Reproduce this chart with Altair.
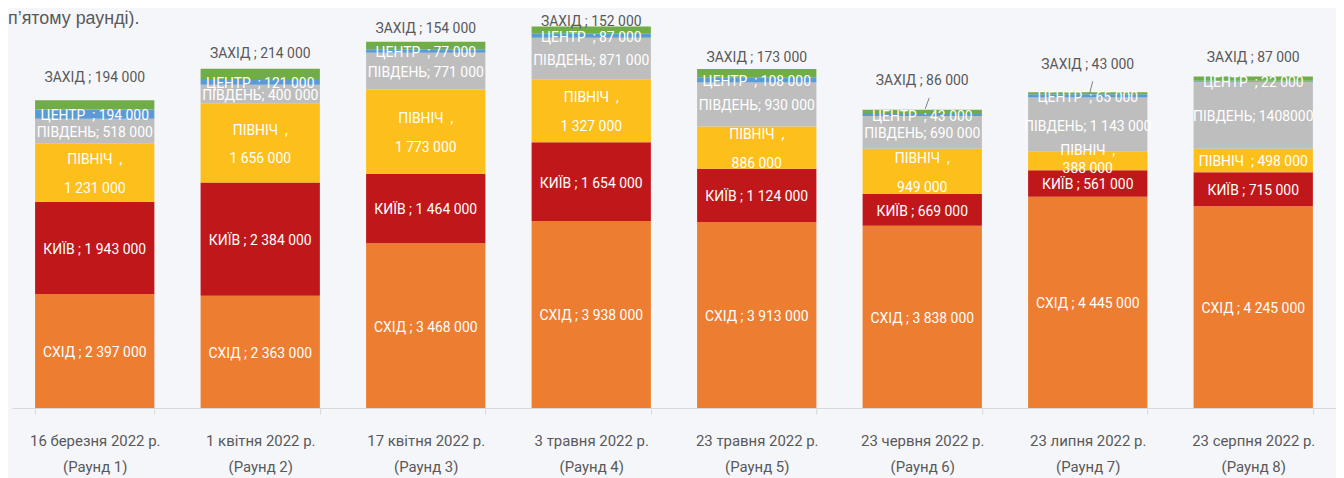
import altair as alt
import pandas as pd

# ---------------- data ----------------
dates = ["16 березня 2022 р.", "1 квітня 2022 р.", "17 квітня 2022 р.", "3 травня 2022 р.",
         "23 травня 2022 р.", "23 червня 2022 р.", "23 липня 2022 р.", "23 серпня 2022 р."]
round_labels = ["(Раунд 1)", "(Раунд 2)", "(Раунд 3)", "(Раунд 4)",
                "(Раунд 5)", "(Раунд 6)", "(Раунд 7)", "(Раунд 8)"]
regions = ["СХІД", "КИЇВ", "ПІВНІЧ", "ПІВДЕНЬ", "ЦЕНТР", "ЗАХІД"]
east = [2397000, 2363000, 3468000, 3938000, 3913000, 3838000, 4445000, 4245000]
kyiv = [1943000, 2384000, 1464000, 1654000, 1124000, 669000, 561000, 715000]
north = [1231000, 1656000, 1773000, 1327000, 886000, 949000, 388000, 498000]
south = [518000, 400000, 771000, 871000, 930000, 690000, 1143000, 1408000]
centre = [194000, 121000, 77000, 87000, 108000, 43000, 65000, 22000]
west = [194000, 214000, 154000, 152000, 173000, 86000, 43000, 87000]
note_text = "п’ятому раунді)."

# ---------------- layout / style ----------------
W, H = 1332, 401
YMAX = H / 47.8 * 1e6
UPP = YMAX / H                      # data units per pixel
colors = ["#ED7D31", "#C0181A", "#FCBF1C", "#BEBEBE", "#5B9BD5", "#70AD47"]
FONT = "Roboto, Liberation Sans, sans-serif"
TXT = "#595959"
INSIDE_DY = 2                       # px, positive = down
NORTH_SPLIT = [(-14.5, 14.5)] * 6 + [(-12, 6), None]
WEST_LIFT = [24, 17, 15, 7, 13, 31, 29, 21]
LEADERS = {5: (7, -12, 3, -1), 6: (5, -11, 2, 1)}  # round idx: dx_top, dy_top, dx_bot, dy_bot

NBSP = "\u00a0"


def fmt(v):
    return f"{v:,}".replace(",", " ")


cats = [f"{d}|{r}" for d, r in zip(dates, round_labels)]

bar_rows, in_rows, out_rows = [], [], []
for i, c in enumerate(cats):
    vals = [east[i], kyiv[i], north[i], south[i], centre[i], west[i]]
    base = 0
    bounds = []
    for k, (reg, v) in enumerate(zip(regions, vals)):
        bar_rows.append({"cat": c, "region": reg, "y0": base, "y1": base + v, "ord": k})
        bounds.append((base, base + v))
        base += v
    total = base
    mid = [(a + b) / 2 for a, b in bounds]

    def place(m, dy_px):
        return m - dy_px * UPP

    in_rows.append({"cat": c, "t": f"СХІД ; {fmt(east[i])}", "y": place(mid[0], INSIDE_DY)})
    in_rows.append({"cat": c, "t": f"КИЇВ ; {fmt(kyiv[i])}", "y": place(mid[1], INSIDE_DY)})
    sp = NORTH_SPLIT[i]
    if sp is None:
        in_rows.append({"cat": c, "t": f"ПІВНІЧ{NBSP} ; {fmt(north[i])}", "y": place(mid[2], INSIDE_DY)})
    else:
        in_rows.append({"cat": c, "t": f"ПІВНІЧ{NBSP} ,", "y": place(mid[2], INSIDE_DY + sp[0])})
        in_rows.append({"cat": c, "t": fmt(north[i]), "y": place(mid[2], INSIDE_DY + sp[1])})
    s_txt = str(south[i]) if south[i] >= 1400000 else fmt(south[i])
    in_rows.append({"cat": c, "t": f"ПІВДЕНЬ; {s_txt}", "y": place(mid[3], INSIDE_DY)})
    in_rows.append({"cat": c, "t": f"ЦЕНТР{NBSP} ; {fmt(centre[i])}", "y": place(mid[4], INSIDE_DY)})
    out_rows.append({"cat": c, "t": f"ЗАХІД ; {fmt(west[i])}", "y": place(total, INSIDE_DY - WEST_LIFT[i])})

bars_df = pd.DataFrame(bar_rows)
in_df = pd.DataFrame(in_rows)
out_df = pd.DataFrame(out_rows)

xenc = alt.X("cat:N", sort=cats, title=None,
             scale=alt.Scale(paddingInner=0.28, paddingOuter=0.14),
             axis=alt.Axis(labelExpr="split(datum.label, '|')", labelAngle=0,
                           labelFont=FONT, labelFontSize=15, labelColor=TXT,
                           labelLineHeight=26, labelBaseline="middle", labelPadding=27,
                           domainColor="#D9D9D9", tickColor="#D9D9D9", tickSize=6,
                           tickBand="extent", labelLimit=300))
yscale = alt.Scale(domain=[0, YMAX], nice=False, zero=True)

bars = alt.Chart(bars_df).mark_bar(size=120).encode(
    x=xenc,
    y=alt.Y("y0:Q", scale=yscale, axis=None),
    y2="y1:Q",
    color=alt.Color("region:N", scale=alt.Scale(domain=regions, range=colors), legend=None),
)

inside = alt.Chart(in_df).mark_text(font=FONT, fontSize=14, color="white", baseline="middle").encode(
    x=alt.X("cat:N", sort=cats), y=alt.Y("y:Q", scale=yscale), text="t:N")

outside = alt.Chart(out_df).mark_text(font=FONT, fontSize=14, color=TXT, baseline="middle").encode(
    x=alt.X("cat:N", sort=cats), y=alt.Y("y:Q", scale=yscale), text="t:N")

leader_layers = []
for i, (dxt, dyt, dxb, dyb) in LEADERS.items():
    total = east[i] + kyiv[i] + north[i] + south[i] + centre[i] + west[i]
    ldf = pd.DataFrame([{"cat": cats[i], "ya": total - dyt * UPP, "yb": total - dyb * UPP}])
    leader_layers.append(
        alt.Chart(ldf).mark_rule(color="#7F7F7F", strokeWidth=1, xOffset=dxt, x2Offset=dxb).encode(
            x=alt.X("cat:N", sort=cats), x2="cat:N",
            y=alt.Y("ya:Q", scale=yscale), y2="yb:Q"))

note = alt.Chart(pd.DataFrame([{"t": note_text}])).mark_text(
    font="Liberation Sans, sans-serif", fontSize=18, color=TXT, align="left", baseline="alphabetic"
).encode(x=alt.value(-4), y=alt.value(15), text="t:N")

chart = alt.layer(bars, inside, outside, *leader_layers, note).properties(
    width=W, height=H,
    autosize=alt.AutoSizeParams(type="none"),
    padding={"left": 4, "right": 0, "top": 0, "bottom": 69},
    background="#F5F6FA",
).configure_view(stroke=None)

chart.save("out.html", embed_options={"renderer": "svg", "actions": False})
